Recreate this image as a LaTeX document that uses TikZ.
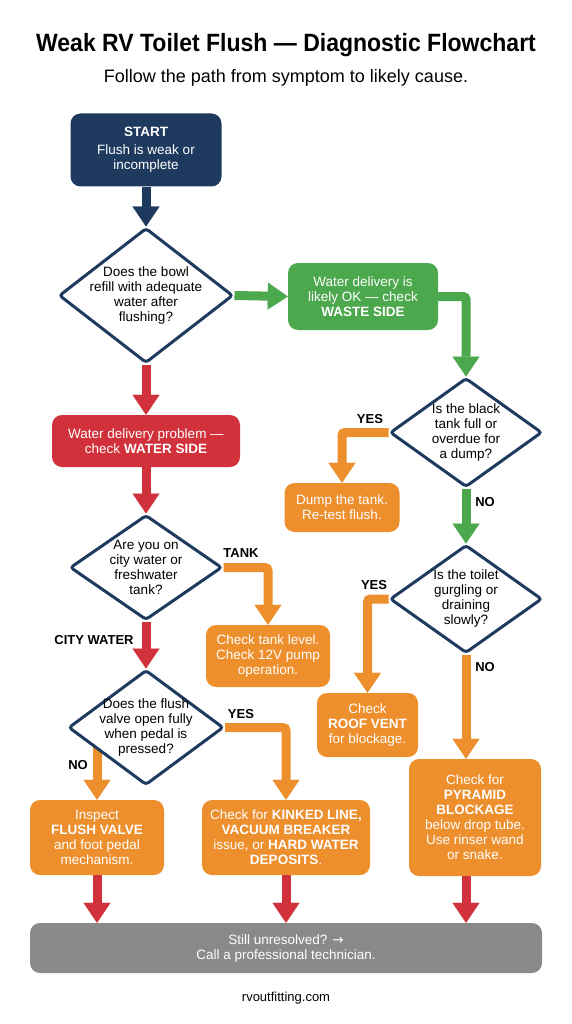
\documentclass[tikz,border=0pt]{standalone}
\usepackage{fontspec}
\setmainfont{Liberation Sans}
\newfontfamily\titlefont{Liberation Sans}[FakeStretch=0.92]
\newfontfamily\arrowfont{DejaVu Sans}
\usetikzlibrary{arrows.meta,shapes.geometric,backgrounds}
\definecolor{navy}{HTML}{1F3A5F}
\definecolor{fgreen}{HTML}{4CA84C}
\definecolor{fred}{HTML}{D0313A}
\definecolor{forange}{HTML}{EE8F2E}
\definecolor{fgray}{HTML}{8A8A8A}
\tikzset{
  body/.style={font=\fontsize{13.5}{15}\selectfont, align=center},
  box/.style={body, rounded corners=10pt, text=white, inner sep=0pt},
  dia/.style={diamond, draw=navy, line width=3pt, fill=white, inner sep=0pt, rounded corners=3pt},
  lbl/.style={font=\bfseries\fontsize{13}{15}\selectfont, text=black, inner sep=0pt},
  conn/.style={line width=9pt, rounded corners=3pt, -{Triangle[length=20pt,width=27pt,line width=0.1pt]}},
}
\begin{document}
\begin{tikzpicture}[x=1pt,y=-1pt]
\useasboundingbox (0,0) rectangle (572,1024);
% titles
\node[font=\titlefont\bfseries\fontsize{25}{28}\selectfont] (title) at (286,45) {Weak RV Toilet Flush — Diagnostic Flowchart};
\node[font=\fontsize{18}{20}\selectfont] (sub) at (286,78) {Follow the path from symptom to likely cause.};
% boxes
\node[box, fill=navy, minimum width=151pt, minimum height=73pt] (start) at (146,150) {\textbf{START}\\[3pt]Flush is weak or\\incomplete};
\node[dia, minimum width=174pt, minimum height=135pt] (d1) at (146,295.5) {};
\node[body] (d1t) at (d1.center) {Does the bowl\\refill with adequate\\water after\\flushing?};
\node[box, fill=fgreen, minimum width=150pt, minimum height=67pt] (green) at (363,296.5) {Water delivery is\\likely OK — check\\\textbf{WASTE SIDE}};
\node[dia, minimum width=152pt, minimum height=109pt] (d2) at (466,432.5) {};
\node[body] (d2t) at (d2.center) {Is the black\\tank full or\\overdue for\\a dump?};
\node[box, fill=forange, minimum width=115pt, minimum height=49pt] (dump) at (342,507.5) {Dump the tank.\\Re-test flush.};
\node[dia, minimum width=152pt, minimum height=108pt] (d3) at (466,599) {};
\node[body] (d3t) at (d3.center) {Is the toilet\\gurgling or\\draining\\slowly?};
\node[box, fill=forange, minimum width=101pt, minimum height=64pt] (roof) at (367.5,725) {Check\\\textbf{ROOF VENT}\\for blockage.};
\node[box, fill=forange, minimum width=132pt, minimum height=117pt] (pyr) at (475,817.5) {Check for\\\textbf{PYRAMID}\\\textbf{BLOCKAGE}\\below drop tube.\\Use rinser wand\\or snake.};
\node[box, fill=fred, minimum width=188pt, minimum height=52pt] (red) at (146,441) {Water delivery problem —\\check \textbf{WATER SIDE}};
\node[dia, minimum width=152pt, minimum height=105pt] (d4) at (146,567.5) {};
\node[body] (d4t) at (d4.center) {Are you on\\city water or\\freshwater\\tank?};
\node[box, fill=forange, minimum width=124pt, minimum height=62pt] (tank) at (268,656) {Check tank level.\\Check 12V pump\\operation.};
\node[dia, minimum width=155pt, minimum height=115pt] (d5) at (146,727.5) {};
\node[body] (d5t) at (d5.center) {Does the flush\\valve open fully\\when pedal is\\pressed?};
\node[box, fill=forange, minimum width=134pt, minimum height=75pt] (fv) at (97,837.5) {Inspect\\\textbf{FLUSH VALVE}\\and foot pedal\\mechanism.};
\node[box, fill=forange, minimum width=168pt, minimum height=75pt] (kink) at (286,837.5) {Check for \textbf{KINKED LINE,}\\\textbf{VACUUM BREAKER}\\issue, or \textbf{HARD WATER}\\\textbf{DEPOSITS}.};
\node[box, fill=fgray, minimum width=512pt, minimum height=50pt] (gray) at (286,948) {Still unresolved? {\arrowfont →}\\Call a professional technician.};
\node[font=\fontsize{13}{15}\selectfont] (foot) at (286,998) {rvoutfitting.com};
% labels
\node[lbl] (yes2) at (370,419) {YES};
\node[lbl] (no2) at (485,502) {NO};
\node[lbl] (yes3) at (374,585) {YES};
\node[lbl] (no3) at (485,667) {NO};
\node[lbl] (tanklbl) at (241,553) {TANK};
\node[lbl] (citylbl) at (94,640) {CITY WATER};
\node[lbl] (yes5) at (241,714) {YES};
\node[lbl] (no5) at (78,765) {NO};
% connectors
\begin{scope}[on background layer]
\fill[white] (0,0) rectangle (572,1024);
\draw[conn, navy] (start.south) -- (d1.north);
\draw[conn, fgreen] (d1.east) -- (green.west);
\draw[conn, fgreen] (green.east) -| (d2.north);
\draw[conn, forange] (d2.west) -| (dump.north);
\draw[conn, fgreen] (d2.south) -- (d3.north);
\draw[conn, forange] (d3.west) -| (roof.north);
\draw[conn, forange] (d3.south) -- (d3.south |- pyr.north);
\draw[conn, fred] (d1.south) -- (red.north);
\draw[conn, fred] (red.south) -- (d4.north);
\draw[conn, forange] (d4.east) -| (tank.north);
\draw[conn, fred] (d4.south) -- (d5.north);
\draw[conn, forange] (d5.east) -| (kink.north);
\draw[conn, forange] (fv.north |- d5.west) -- (fv.north);
\draw[conn, fred] (fv.south) -- (fv.south |- gray.north);
\draw[conn, fred] (kink.south) -- (kink.south |- gray.north);
\draw[conn, fred] (d3.south |- pyr.south) -- (d3.south |- gray.north);
\end{scope}
\end{tikzpicture}
\end{document}
